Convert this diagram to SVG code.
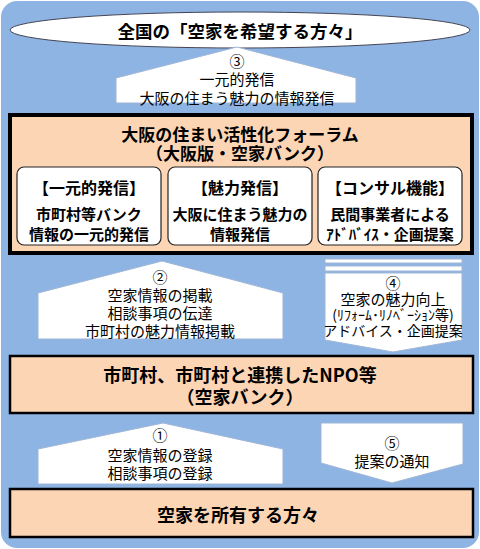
<svg xmlns="http://www.w3.org/2000/svg" width="480" height="549" viewBox="0 0 480 549">
<style>
text{font-family:"Noto Sans CJK JP","Noto Sans",sans-serif;fill:#000;text-anchor:middle;dominant-baseline:central}
.b{font-weight:bold}
.peach{fill:#fcd5b5;stroke:#000}
.arrow{fill:#fff;stroke:#9fb6d6;stroke-width:1}
.sub{fill:#fff;stroke:#222;stroke-width:1.2}
.t15{font-size:15px}
.t14{font-size:14px}
</style>
<rect x="0" y="0" width="480" height="549" fill="#fff"/>
<rect x="1" y="1" width="478" height="547" rx="16" fill="#8eb4e3"/>
<g id="seekers">
<ellipse cx="240" cy="30" rx="230" ry="18" fill="#fff" stroke="#445" stroke-width="1"/>
<text class="b" x="240" y="30" font-size="17.5">全国の「空家を希望する方々」</text>
</g>
<g id="forum">
<rect class="peach" x="10" y="115" width="462" height="138" stroke-width="4"/>
<text class="b" x="240" y="133" font-size="17">大阪の住まい活性化フォーラム</text>
<text class="b" x="240" y="152" font-size="17">（大阪版・空家バンク）</text>
<g id="func1">
<rect class="sub" x="17" y="167" width="144" height="78" rx="7"/>
<text class="b" x="89" y="187" font-size="16">【一元的発信】</text>
<text class="b t15" x="89" y="213">市町村等バンク</text>
<text class="b t15" x="89" y="233">情報の一元的発信</text>
</g>
<g id="func2">
<rect class="sub" x="168" y="167" width="144" height="78" rx="7"/>
<text class="b" x="240" y="187" font-size="16">【魅力発信】</text>
<text class="b t15" x="240" y="213">大阪に住まう魅力の</text>
<text class="b t15" x="240" y="233">情報発信</text>
</g>
<g id="func3">
<rect class="sub" x="318" y="167" width="144" height="78" rx="7"/>
<text class="b" x="390" y="187" font-size="16">【コンサル機能】</text>
<text class="b t15" x="390" y="213">民間事業者による</text>
<text class="b t15" x="390" y="233">ｱﾄﾞﾊﾞｲｽ・企画提案</text>
</g>
</g>
<g id="npo">
<rect class="peach" x="10" y="356" width="463" height="57" stroke-width="2.5"/>
<text class="b" x="240" y="374" font-size="18">市町村、市町村と連携したNPO等</text>
<text class="b" x="240" y="396" font-size="18">（空家バンク）</text>
</g>
<g id="owners">
<rect class="peach" x="10" y="489" width="463" height="48" stroke-width="2.5"/>
<text class="b" x="238" y="514" font-size="18">空家を所有する方々</text>
</g>
<g id="connectors">
<g id="arrow3">
<polygon class="arrow" points="237,47 356,78 356,103 116,103 116,78"/>
<text class="t15" x="237" y="60">③</text>
<text class="t15" x="237" y="78">一元的発信</text>
<text class="t15" x="237" y="97">大阪の住まう魅力の情報発信</text>
</g>
<g id="arrow2">
<polygon class="arrow" points="162,261 283,293 283,339 38,339 38,293"/>
<text class="t15" x="160" y="276">②</text>
<text class="t15" x="160" y="294">空家情報の掲載</text>
<text class="t15" x="160" y="312">相談事項の伝達</text>
<text class="t15" x="160" y="330">市町村の魅力情報掲載</text>
</g>
<g id="arrow4">
<rect class="arrow" x="325" y="259" width="137" height="4"/>
<rect class="arrow" x="325" y="266" width="137" height="5"/>
<polygon class="arrow" points="325,273 462,273 462,340 393,352 325,340"/>
<text class="t15" x="393" y="282">④</text>
<text class="t15" x="393" y="298">空家の魅力向上</text>
<text class="t14" x="393" y="314">(ﾘﾌｫｰﾑ･ﾘﾉﾍﾞｰｼｮﾝ等)</text>
<text class="t14" x="393" y="330">アドバイス・企画提案</text>
</g>
<g id="arrow1">
<polygon class="arrow" points="163,423 283,449 283,484 38,484 38,449"/>
<text class="t15" x="160" y="434">①</text>
<text class="t15" x="160" y="454">空家情報の登録</text>
<text class="t15" x="160" y="472">相談事項の登録</text>
</g>
<g id="arrow5">
<polygon class="arrow" points="321,423 463,423 463,464 392,483 321,463"/>
<text class="t15" x="392" y="442">⑤</text>
<text class="t15" x="392" y="460">提案の通知</text>
</g>
</g>
</svg>
